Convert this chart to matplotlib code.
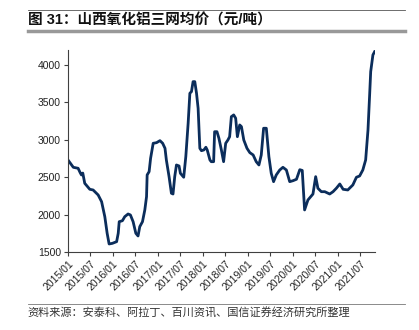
import matplotlib
matplotlib.use("Agg")
import matplotlib.pyplot as plt
import pandas as pd

plt.rcParams['font.family'] = ['Liberation Sans', 'Noto Sans CJK SC', 'DejaVu Sans']

# 山西氧化铝三网均价（元/吨），读图估计
dates = [
    "2015-01-01", "2015-02-13", "2015-03-24", "2015-04-10", "2015-04-20", "2015-05-01",
    "2015-05-17", "2015-06-27",
    "2015-07-24", "2015-09-03", "2015-10-01", "2015-10-27", "2015-11-15", "2015-12-01",
    "2015-12-28", "2016-01-31", "2016-02-13", "2016-02-21", "2016-03-18", "2016-04-06",
    "2016-05-03", "2016-05-22", "2016-06-13", "2016-07-05", "2016-07-23", "2016-08-06",
    "2016-08-28", "2016-09-16", "2016-09-30", "2016-10-05", "2016-10-21", "2016-11-02",
    "2016-11-23", "2016-12-20", "2017-01-17", "2017-02-08", "2017-02-27", "2017-03-10",
    "2017-04-01", "2017-04-20", "2017-05-03", "2017-05-17", "2017-05-31", "2017-06-21",
    "2017-07-02", "2017-07-29", "2017-08-15", "2017-09-03", "2017-09-17", "2017-09-30",
    "2017-10-13", "2017-10-27", "2017-11-10", "2017-11-23", "2017-12-07", "2017-12-20",
    "2018-01-09", "2018-01-25", "2018-02-05", "2018-02-27", "2018-03-10", "2018-03-29",
    "2018-04-06", "2018-04-25", "2018-05-11", "2018-05-31", "2018-06-18", "2018-07-05",
    "2018-07-23", "2018-08-06", "2018-08-20", "2018-09-08", "2018-09-24", "2018-10-08",
    "2018-10-27", "2018-11-10", "2018-11-29", "2018-12-25", "2019-01-17", "2019-02-13",
    "2019-03-10", "2019-04-01", "2019-04-20", "2019-05-09", "2019-05-31", "2019-06-21",
    "2019-07-10", "2019-07-29", "2019-08-20", "2019-09-17", "2019-10-13", "2019-11-10",
    "2019-12-07", "2020-01-03", "2020-01-31", "2020-02-27", "2020-03-18", "2020-04-06",
    "2020-05-03", "2020-06-13", "2020-07-05", "2020-07-23", "2020-08-20", "2020-09-17",
    "2020-10-27", "2020-11-23", "2020-12-20", "2021-01-17", "2021-02-13", "2021-03-23",
    "2021-05-03", "2021-06-01", "2021-06-27", "2021-07-23", "2021-08-15", "2021-09-03",
    "2021-09-17", "2021-09-25", "2021-10-13", "2021-10-27",
]
price = [
    2730, 2632, 2619, 2560, 2530, 2555,
    2418, 2338,
    2329, 2262, 2172, 1972, 1750, 1607,
    1616, 1638, 1750, 1905, 1918, 1972,
    2008, 1995, 1905, 1750, 1714, 1838,
    1905, 2062, 2240, 2530, 2574, 2753,
    2953, 2961, 2988, 2953, 2886, 2730,
    2507, 2285, 2275, 2507, 2663, 2650,
    2552, 2499, 2774, 3221, 3622, 3643,
    3777, 3777, 3622, 3421, 2886, 2854,
    2864, 2900, 2864, 2730, 2707, 2707,
    3108, 3108, 3020, 2864, 2707, 2953,
    2997, 3041, 3309, 3332, 3288, 3041,
    3198, 3175, 2997, 2886, 2828, 2797,
    2707, 2663, 2797, 3154, 3154, 2774,
    2552, 2440, 2530, 2596, 2632, 2596,
    2440, 2453, 2472, 2600, 2590, 2062,
    2195, 2275, 2507, 2352, 2306, 2306,
    2275, 2306, 2352, 2409, 2338, 2329,
    2396, 2499, 2516, 2596, 2730, 3131,
    3622, 3911, 4134, 4178,
]
tick_labels = ["2015/01", "2015/07", "2016/01", "2016/07", "2017/01", "2017/07",
               "2018/01", "2018/07", "2019/01", "2019/07", "2020/01", "2020/07",
               "2021/01", "2021/07"]

title = "图 31：山西氧化铝三网均价（元/吨）"
source = "资料来源：安泰科、阿拉丁、百川资讯、国信证券经济研究所整理"

x = pd.to_datetime(dates)
ticks = pd.to_datetime([t.replace("/", "-") + "-01" for t in tick_labels])

fig = plt.figure(figsize=(4.19, 3.30), dpi=100)
ax = fig.add_axes([0.1623, 0.2364, 0.895 - 0.1623, 0.8485 - 0.2364])

ax.plot(x, price, color="#0b2d5b", lw=2.0, solid_joinstyle="round")

ax.set_xlim(pd.Timestamp("2015-01-01"), pd.Timestamp("2021-10-30"))
ax.set_ylim(1500, 4200)
ax.set_yticks([1500, 2000, 2500, 3000, 3500, 4000])
ax.set_xticks(ticks)
ax.set_xticklabels(tick_labels, rotation=45, ha="right", rotation_mode="anchor")

for s in ["top", "right"]:
    ax.spines[s].set_visible(False)
for s in ["left", "bottom"]:
    ax.spines[s].set_color("#404040")
    ax.spines[s].set_linewidth(0.8)
ax.tick_params(axis="both", direction="out", length=3, width=0.8, color="#404040",
               labelsize=7.5, labelcolor="#222222", pad=2)

# 标题与来源的横线
fig.add_artist(plt.Line2D([0.067, 0.967], [1 - 10 / 330] * 2, color="#555555", lw=0.6))
fig.add_artist(plt.Line2D([0.067, 0.967], [1 - 31 / 330] * 2, color="#999999", lw=2.5))
fig.add_artist(plt.Line2D([0.067, 0.967], [1 - 304 / 330] * 2, color="#777777", lw=0.6))

fig.text(0.067, 1 - 20.5 / 330, title, fontsize=10.5, fontweight="bold",
         family=["Liberation Sans", "Noto Sans CJK SC"], va="center", ha="left", color="#111111")
fig.text(0.065, 1 - 313 / 330, source, fontsize=8, family=["Noto Sans CJK SC"],
         va="center", ha="left", color="#333333")

fig.savefig("out.png", dpi=100)
